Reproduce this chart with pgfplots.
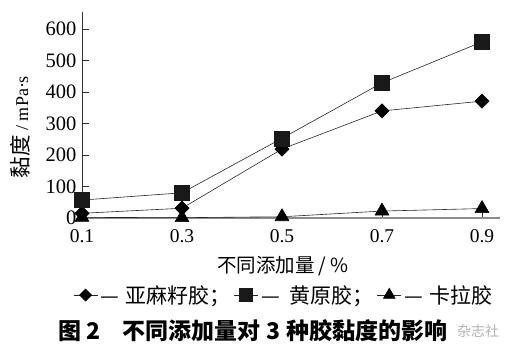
\documentclass[border=0pt]{standalone}
\usepackage{fontspec}
\usepackage{pgfplots}
\pgfplotsset{compat=1.18}
\setmainfont{Liberation Serif}
\newfontfamily\cjk{Noto Sans CJK SC}
\begin{document}
\begin{tikzpicture}
\useasboundingbox (-82pt,-131pt) rectangle (437pt,218pt);
\begin{axis}[
  at={(0pt,0pt)}, anchor=south west,
  scale only axis, width=418pt, height=206pt,
  xmin=0.1, xmax=0.936, ymin=0, ymax=654,
  clip=false,
  axis lines=left,
  axis line style={-},
  x axis line style={black!45, line width=1.3pt},
  y axis line style={black!80, line width=0.6pt},
  xtick={0.1,0.3,0.5,0.7,0.9},
  xticklabels={0.1,0.3,0.5,0.7,0.9},
  ytick={0,100,200,300,400,500,600},
  tick align=inside,
  major tick length=7pt,
  tick style={black!80, line width=0.6pt},
  /pgf/number format/assume math mode=true,
  yticklabel style={font=\fontsize{20.5}{20.5}\selectfont, xshift=-2pt},
  xticklabel style={font=\fontsize{19.5}{19.5}\selectfont, yshift=-7.5pt},
  legend style={at={(axis description cs:0.484,-0.374)}, anchor=center,
    draw=none, fill=none, legend columns=3,
    font=\cjk\fontsize{21}{21}\selectfont,
    nodes={inner xsep=3pt},
    /tikz/every even column/.append style={column sep=0pt}},
  legend cell align=left,
  legend image code/.code={\draw[mark repeat=2,mark phase=2,#1,/tikz/every mark/.append style={scale=0.85}] plot coordinates {(0pt,0pt)(12pt,0pt)(24pt,0pt)};},
]
\addplot[black!85, line width=0.6pt, mark=square*, mark size=5pt, mark options={rotate=45, fill=black, draw=black}]
  coordinates {(0.1,15)(0.3,31)(0.5,219)(0.7,340)(0.9,371)};
\addlegendentry{—\hspace{6pt}亚麻籽胶；}
\addplot[black!85, line width=0.6pt, mark=square*, mark size=7.5pt, mark options={fill=black!90, draw=black!90}]
  coordinates {(0.1,57)(0.3,80)(0.5,253)(0.7,429)(0.9,559)};
\addlegendentry{—\hspace{10pt}黄原胶；}
\addplot[black!85, line width=0.6pt, mark=triangle*, mark size=8pt, mark options={fill=black, draw=black}]
  coordinates {(0.1,2)(0.3,1)(0.5,4)(0.7,22)(0.9,30)};
\addlegendentry{—\hspace{6pt}卡拉胶}
\end{axis}
\node[rotate=90, font=\fontsize{18}{18}\selectfont] at (-62pt,91pt) {{\cjk\fontsize{21.5}{21.5}\selectfont 黏度} / mPa·s};
\node[font=\cjk\fontsize{19.5}{20}\selectfont] at (201pt,-48pt) {不同添加量 / \textit{\%}};
\node[font=\cjk\bfseries\fontsize{23}{23}\selectfont, anchor=west, inner sep=0pt] at (-24pt,-113pt) {图 2};
\node[font=\cjk\bfseries\fontsize{23}{23}\selectfont, anchor=west, inner sep=0pt] at (40pt,-113pt) {不同添加量对\hspace{6pt}3\hspace{6pt}种胶黏度的影响};
\node[font=\cjk\fontsize{14}{14}\selectfont, text=black!30] at (396pt,-113pt) {杂志社};
\end{tikzpicture}
\end{document}
